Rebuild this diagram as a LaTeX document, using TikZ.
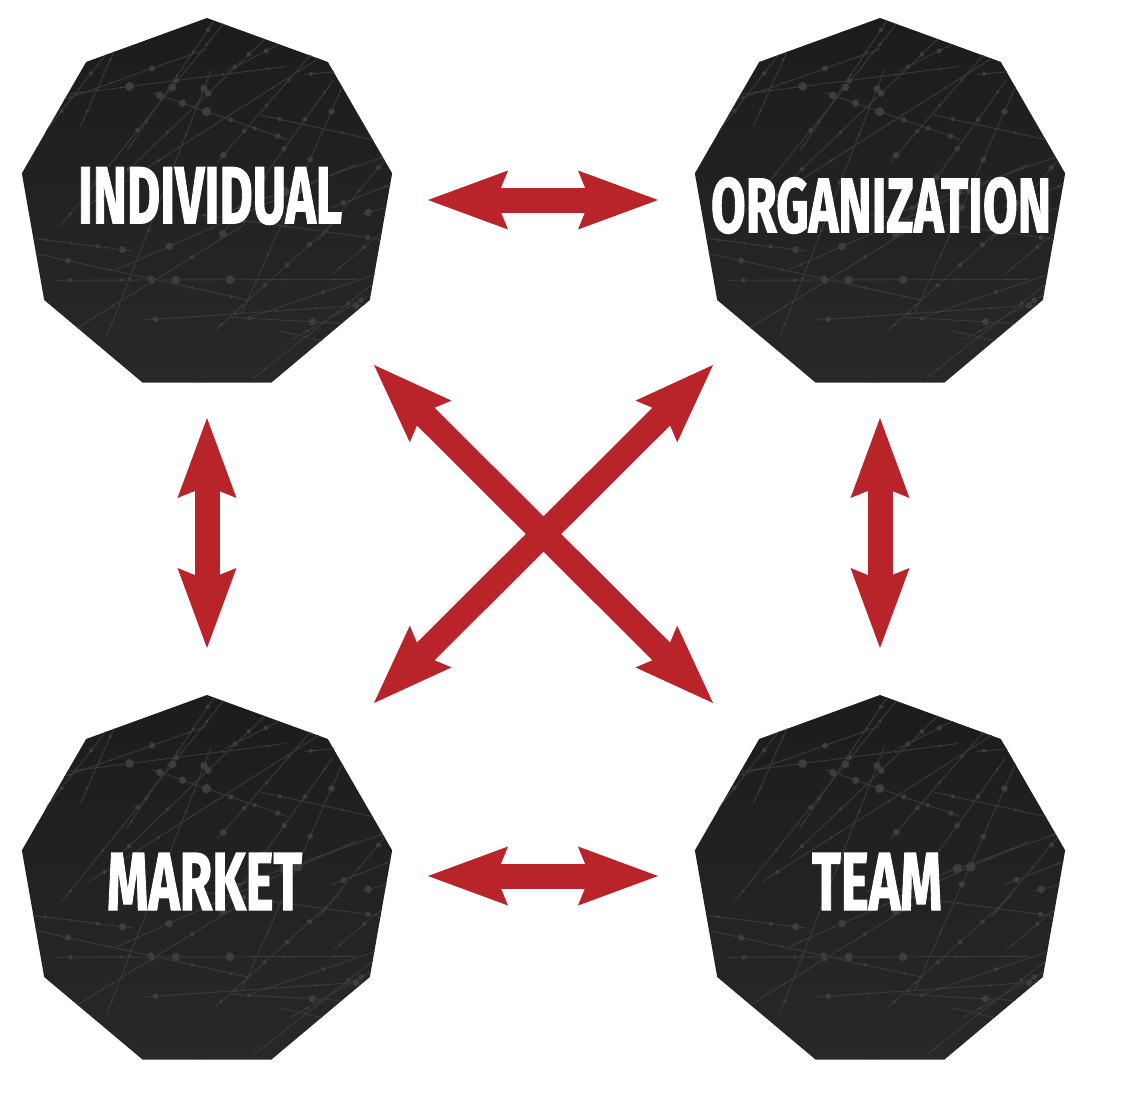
\documentclass[tikz,border=0pt]{standalone}
\usepackage{fontspec}
\setmainfont{Fira Sans}
\newfontfamily\labelfont{Fira Sans Bold}[FakeBold=1.6]
\usetikzlibrary{shapes.geometric,arrows.meta}
\definecolor{arrowred}{RGB}{185,35,42}
\definecolor{texgray}{RGB}{58,58,58}
\definecolor{dotgray}{RGB}{62,62,62}
\definecolor{polytop}{RGB}{28,28,28}
\definecolor{polybot}{RGB}{40,40,40}
\newcommand\nettexture[1]{%
  \begin{scope}
    \clip (#1.corner 1) -- (#1.corner 2) -- (#1.corner 3) -- (#1.corner 4) -- (#1.corner 5)
      -- (#1.corner 6) -- (#1.corner 7) -- (#1.corner 8) -- (#1.corner 9) -- cycle;
    \begin{scope}[shift={(#1.center)}]
      \pgfmathsetseed{11}
      \foreach \i in {1,...,44}{
        \pgfmathsetmacro\xa{-230+420*rnd}
        \pgfmathsetmacro\ya{-150+340*rnd}
        \pgfmathsetmacro\ang{-70+90*rnd}
        \pgfmathsetmacro\len{130+250*rnd}
        \draw[texgray, line width=0.9pt] (\xa,\ya) -- ++(\ang:\len);
        \foreach \t in {0.05,0.22,0.4,0.58,0.76,0.93}{
          \pgfmathsetmacro\rr{1.2+4.3*rnd*rnd}
          \pgfmathsetmacro\px{\xa+\t*\len*cos(\ang)}
          \pgfmathsetmacro\py{\ya+\t*\len*sin(\ang)}
          \fill[dotgray] (\px,\py) circle (\rr pt);
        }
      }
    \end{scope}
  \end{scope}}
\begin{document}
\begin{tikzpicture}[x=1pt,y=-1pt,
  nona/.style={regular polygon, regular polygon sides=9, minimum size=376pt,
    inner sep=0pt, top color=polytop, bottom color=polybot, draw=none},
  lbl/.style={text=white, inner sep=0pt, font=\labelfont},
  dbl/.style={draw=arrowred, line width=25pt,
    {Stealth[length=80pt,width=59pt,inset=12pt,line width=0pt]}-{Stealth[length=80pt,width=59pt,inset=12pt,line width=0pt]}}]
  \fill[white] (0,0) rectangle (1121,1109);
  \useasboundingbox (0,0) rectangle (1121,1109);

  \node[nona] (ind) at (207,206) {};
  \node[nona] (org) at (880,206) {};
  \node[nona] (mkt) at (207,883) {};
  \node[nona] (team) at (880,883) {};

  \nettexture{ind}
  \nettexture{org}
  \nettexture{mkt}
  \nettexture{team}

  \node[lbl] (tind) at (210,196) {\resizebox{264pt}{56pt}{INDIVIDUAL}};
  \node[lbl] (torg) at (881,205.5) {\resizebox{340pt}{55pt}{ORGANIZATION}};
  \node[lbl] (tmkt) at (204.5,881.5) {\resizebox{195pt}{57pt}{MARKET}};
  \node[lbl] (tteam) at (877,881.5) {\resizebox{130pt}{57pt}{TEAM}};

  \coordinate (h1a) at (428,200);  \coordinate (h1b) at (658,200);
  \coordinate (h2a) at (428,876);  \coordinate (h2b) at (658,876);
  \coordinate (v1a) at (207,418);  \coordinate (v1b) at (207,648);
  \coordinate (v2a) at (880,418);  \coordinate (v2b) at (880,648);
  \coordinate (d1a) at (374,365);  \coordinate (d1b) at (713,703);
  \coordinate (d2a) at (713,365);  \coordinate (d2b) at (374,703);

  \draw[dbl] (h1a) -- (h1b);
  \draw[dbl] (h2a) -- (h2b);
  \draw[dbl] (v1a) -- (v1b);
  \draw[dbl] (v2a) -- (v2b);
  \draw[dbl] (d1a) -- (d1b);
  \draw[dbl] (d2a) -- (d2b);
\end{tikzpicture}
\end{document}
